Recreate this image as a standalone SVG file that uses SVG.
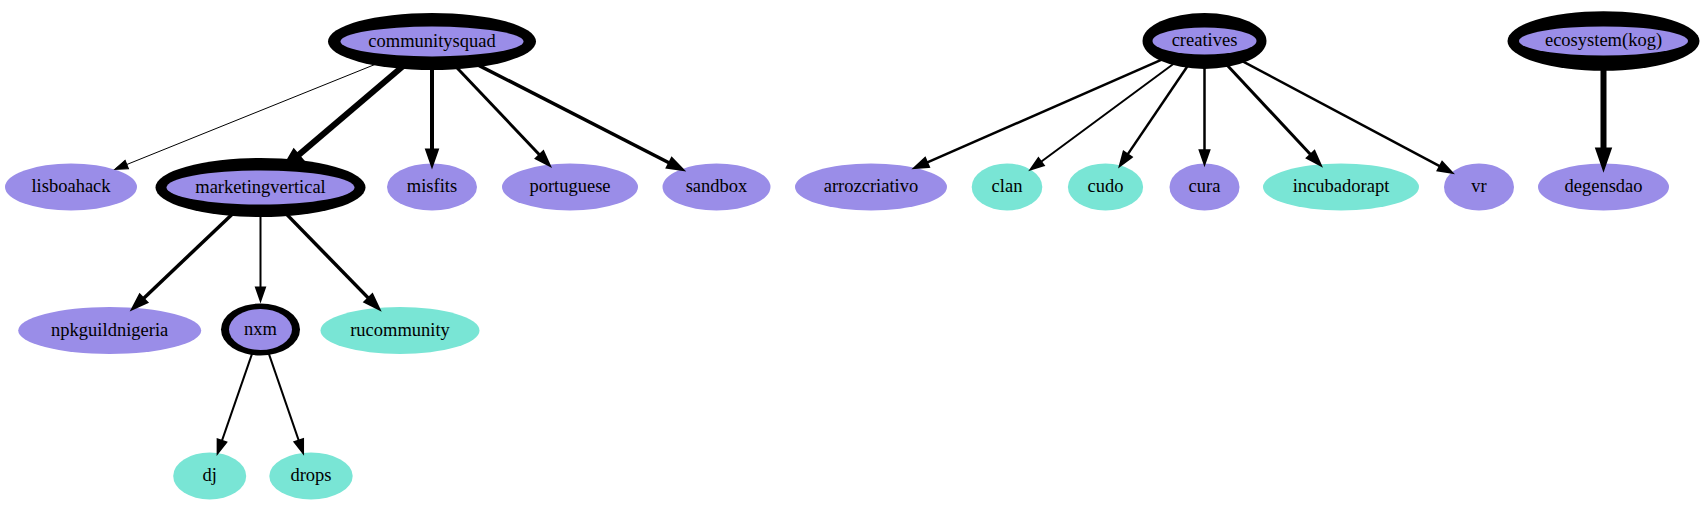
<svg xmlns="http://www.w3.org/2000/svg" width="1701" height="517" viewBox="0 0 1701 517">
<style>
.n ellipse{stroke:none}
.p{fill:#9a8de8}
.t{fill:#79e5d5}
.ring{fill:#000}
text{font-family:"Liberation Serif","Times New Roman",serif;font-size:18.5px;fill:#000;text-anchor:middle}
#edges path{fill:none;stroke:#000}
marker{overflow:visible}
marker path{fill:#000;stroke:#000}
</style>
<defs>
<marker id="a1" markerUnits="userSpaceOnUse" orient="auto" refX="0" refY="0" markerWidth="1" markerHeight="1"><path d="M0,-4.5L13,0L0,4.5Z" stroke-width="1"/></marker>
<marker id="a2" markerUnits="userSpaceOnUse" orient="auto" refX="0" refY="0" markerWidth="1" markerHeight="1"><path d="M0,-4.5L13,0L0,4.5Z" stroke-width="2"/></marker>
<marker id="a25" markerUnits="userSpaceOnUse" orient="auto" refX="0" refY="0" markerWidth="1" markerHeight="1"><path d="M0,-4.5L13,0L0,4.5Z" stroke-width="2.5"/></marker>
<marker id="a3" markerUnits="userSpaceOnUse" orient="auto" refX="0" refY="0" markerWidth="1" markerHeight="1"><path d="M0,-4.5L13,0L0,4.5Z" stroke-width="3"/></marker>
<marker id="a35" markerUnits="userSpaceOnUse" orient="auto" refX="0" refY="0" markerWidth="1" markerHeight="1"><path d="M0,-4.5L13,0L0,4.5Z" stroke-width="3.5"/></marker>
<marker id="a4" markerUnits="userSpaceOnUse" orient="auto" refX="0" refY="0" markerWidth="1" markerHeight="1"><path d="M0,-4.5L13,0L0,4.5Z" stroke-width="4"/></marker>
<marker id="a6" markerUnits="userSpaceOnUse" orient="auto" refX="0" refY="0" markerWidth="1" markerHeight="1"><path d="M0,-4.5L13,0L0,4.5Z" stroke-width="6"/></marker>
</defs>
<rect width="1701" height="517" fill="#fff"/>
<g id="nodes">
<g id="communitysquad"><ellipse class="ring" cx="432" cy="41.5" rx="104" ry="28.5"/><ellipse class="p" cx="432" cy="41.5" rx="91.5" ry="15"/><text x="432" y="46.5">communitysquad</text></g>
<g id="creatives"><ellipse class="ring" cx="1204.5" cy="41" rx="62" ry="28"/><ellipse class="p" cx="1204.5" cy="41" rx="52" ry="13.5"/><text x="1204.5" y="46">creatives</text></g>
<g id="ecosystem_kog"><ellipse class="ring" cx="1603.5" cy="41" rx="96" ry="29.7"/><ellipse class="p" cx="1603.5" cy="41" rx="84.5" ry="14.5"/><text x="1603.5" y="46">ecosystem(kog)</text></g>
<g id="lisboahack"><ellipse class="p" cx="71" cy="187" rx="66" ry="23.5"/><text x="71" y="192">lisboahack</text></g>
<g id="marketingvertical"><ellipse class="ring" cx="260.5" cy="187.5" rx="105" ry="29.5"/><ellipse class="p" cx="260.5" cy="187.5" rx="94" ry="17"/><text x="260.5" y="192.5">marketingvertical</text></g>
<g id="misfits"><ellipse class="p" cx="432" cy="187" rx="45" ry="23.5"/><text x="432" y="192">misfits</text></g>
<g id="portuguese"><ellipse class="p" cx="570" cy="187" rx="68" ry="23.5"/><text x="570" y="192">portuguese</text></g>
<g id="sandbox"><ellipse class="p" cx="716.5" cy="187" rx="54" ry="23.5"/><text x="716.5" y="192">sandbox</text></g>
<g id="arrozcriativo"><ellipse class="p" cx="871" cy="187" rx="76" ry="23.5"/><text x="871" y="192">arrozcriativo</text></g>
<g id="clan"><ellipse class="t" cx="1007" cy="187" rx="35.3" ry="23.5"/><text x="1007" y="192">clan</text></g>
<g id="cudo"><ellipse class="t" cx="1105.5" cy="187" rx="37.6" ry="23.5"/><text x="1105.5" y="192">cudo</text></g>
<g id="cura"><ellipse class="p" cx="1204.5" cy="187" rx="35" ry="23.5"/><text x="1204.5" y="192">cura</text></g>
<g id="incubadorapt"><ellipse class="t" cx="1341" cy="187" rx="78" ry="23.5"/><text x="1341" y="192">incubadorapt</text></g>
<g id="vr"><ellipse class="p" cx="1479" cy="187" rx="35" ry="23.5"/><text x="1479" y="192">vr</text></g>
<g id="degensdao"><ellipse class="p" cx="1603.5" cy="187" rx="65.5" ry="23.5"/><text x="1603.5" y="192">degensdao</text></g>
<g id="npkguildnigeria"><ellipse class="p" cx="109.7" cy="330.5" rx="91.5" ry="23.5"/><text x="109.7" y="335.5">npkguildnigeria</text></g>
<g id="nxm"><ellipse class="ring" cx="260.5" cy="329.5" rx="39.5" ry="26"/><ellipse class="p" cx="260.5" cy="329.5" rx="31.5" ry="20.5"/><text x="260.5" y="334.5">nxm</text></g>
<g id="rucommunity"><ellipse class="t" cx="400" cy="330.5" rx="79.5" ry="23.5"/><text x="400" y="335.5">rucommunity</text></g>
<g id="dj"><ellipse class="t" cx="209.7" cy="476" rx="36.5" ry="23.5"/><text x="209.7" y="481">dj</text></g>
<g id="drops"><ellipse class="t" cx="311" cy="476" rx="41.7" ry="23.5"/><text x="311" y="481">drops</text></g>
</g>
<g id="edges">
<path d="M384.3,60.7L126.8,164.5" stroke-width="1" marker-end="url(#a1)"/>
<path d="M407,62.8L297,156.4" stroke-width="6" marker-end="url(#a6)"/>
<path d="M432,63.5L432,150.5" stroke-width="4" marker-end="url(#a4)"/>
<path d="M452.4,63L539.9,155.2" stroke-width="3" marker-end="url(#a3)"/>
<path d="M471.4,61.6L669.9,163.2" stroke-width="3.5" marker-end="url(#a35)"/>
<path d="M236.4,210.3L143,298.9" stroke-width="3.5" marker-end="url(#a35)"/>
<path d="M260.5,211L260.5,287.5" stroke-width="2" marker-end="url(#a2)"/>
<path d="M282.8,210.4L368.9,298.6" stroke-width="3.5" marker-end="url(#a35)"/>
<path d="M252.7,351.9L221.9,440.8" stroke-width="2" marker-end="url(#a2)"/>
<path d="M268.2,351.9L298.8,440.6" stroke-width="2" marker-end="url(#a2)"/>
<path d="M1166.3,57.7L926.8,162.6" stroke-width="2.5" marker-end="url(#a25)"/>
<path d="M1177.7,60.8L1041.1,161.8" stroke-width="2" marker-end="url(#a2)"/>
<path d="M1189.8,62.7L1127.5,154.6" stroke-width="2.5" marker-end="url(#a25)"/>
<path d="M1204.5,63.5L1204.5,150.5" stroke-width="2.5" marker-end="url(#a25)"/>
<path d="M1224.2,62.1L1311,154.9" stroke-width="3" marker-end="url(#a3)"/>
<path d="M1238.5,59.1L1440.1,166.3" stroke-width="2.5" marker-end="url(#a25)"/>
<path d="M1603.5,63.5L1603.5,150.5" stroke-width="6" marker-end="url(#a6)"/>
</g>
</svg>
